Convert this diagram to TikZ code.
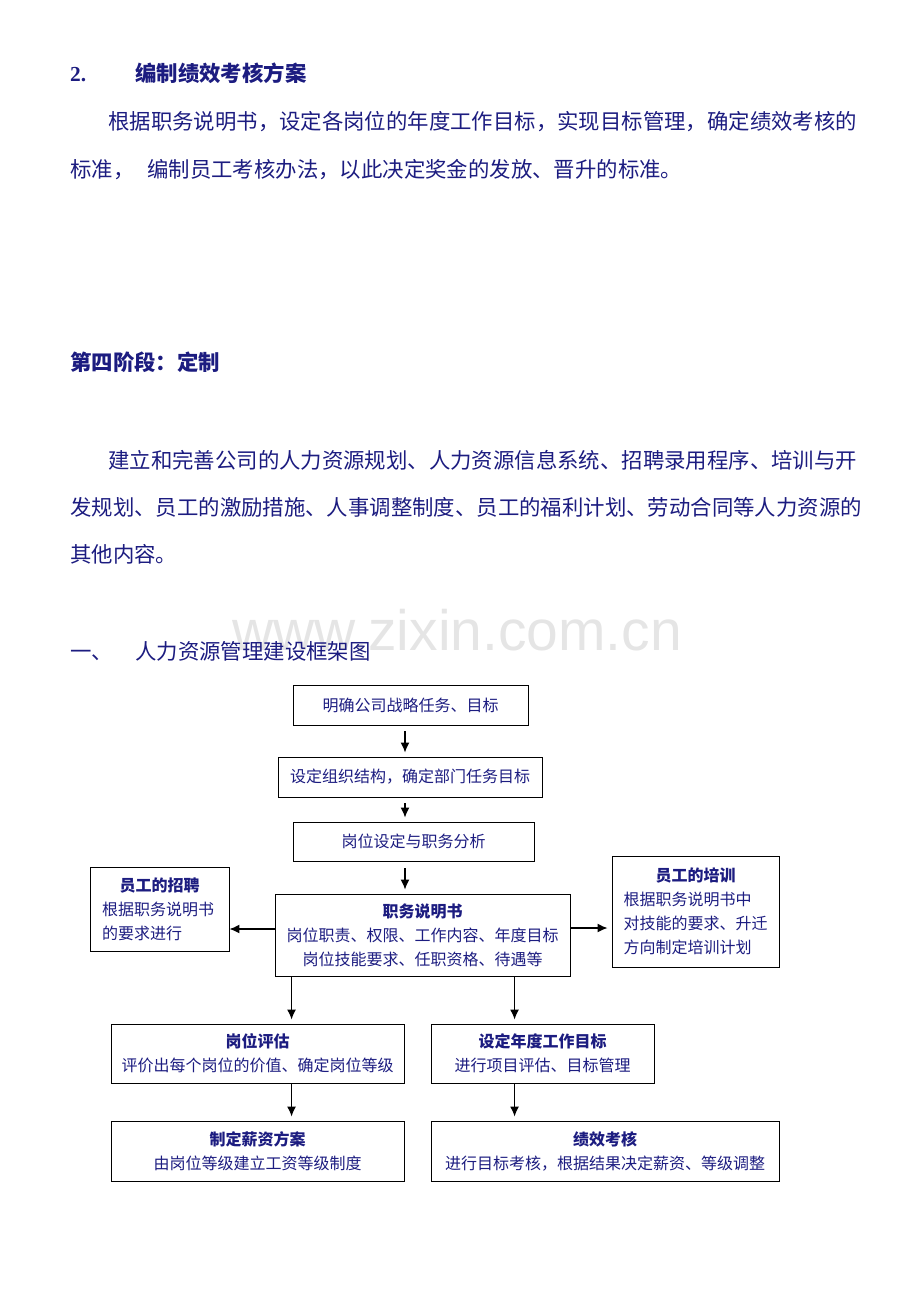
\documentclass[tikz,border=0pt]{standalone}
\usepackage{fontspec}
\setmainfont{Noto Sans CJK SC}
\newfontfamily\numfont{Liberation Serif}
\newfontfamily\webfont{Liberation Sans}
\usetikzlibrary{arrows.meta}
\definecolor{ink}{RGB}{28,28,128}
\newcommand{\bodyfont}{\fontsize{21.4pt}{30pt}\selectfont}
\newcommand{\boxfont}{\fontsize{16pt}{24pt}\selectfont}
\tikzset{
  txt/.style={anchor=base west, inner sep=0pt, font=\bodyfont, text=ink},
  box/.style={draw, line width=0.9pt, inner sep=0pt, font=\boxfont, text=ink, align=center},
  arr/.style={-{Latex[length=10pt,width=9pt]}, line width=1.4pt},
}

\begin{document}
\begin{tikzpicture}[x=1pt, y=-1pt]
    \useasboundingbox (0,0) rectangle (920,1302);
    \node[txt, font=\bodyfont\numfont\bfseries] (num) at (70,81) {2.};
    \node[txt, font=\bodyfont\bfseries] (plan) at (135,81) {编制绩效考核方案};
    \node[txt] (p1) at (108,129) {根据职务说明书，设定各岗位的年度工作目标，实现目标管理，确定绩效考核的};
    \node[txt] (p2) at (70,177) {标准，\hskip 13pt 编制员工考核办法，以此决定奖金的发放、晋升的标准。};
    \node[txt, font=\bodyfont\bfseries] (stage) at (70,370) {第四阶段：定制};
    \node[txt] (q1) at (108,468) {建立和完善公司的人力资源规划、人力资源信息系统、招聘录用程序、培训与开};
    \node[txt] (q2) at (70,515) {发规划、员工的激励措施、人事调整制度、员工的福利计划、劳动合同等人力资源的};
    \node[txt] (q3) at (70,562) {其他内容。};
    \node[txt, font=\webfont\fontsize{57pt}{60pt}\selectfont, text=black!10] (mark) at (232,650) {www.zixin.com.cn};
    \node[txt] (one) at (70,659) {一、};
    \node[txt] (title) at (135,659) {人力资源管理建设框架图};

    \node[box, minimum width=235pt, minimum height=40pt] (goal) at (410.5,705) {明确公司战略任务、目标};
    \node[box, minimum width=264pt, minimum height=40pt] (org) at (410,777) {设定组织结构，确定部门任务目标};
    \node[box, minimum width=241pt, minimum height=39pt] (post) at (413.5,841.5) {岗位设定与职务分析};
    \node[box, minimum width=295pt, minimum height=82pt] (duty) at (422.5,935)
        {\textbf{职务说明书}\\岗位职责、权限、工作内容、年度目标\\岗位技能要求、任职资格、待遇等};
    \node[box, minimum width=139pt, minimum height=84pt, text width=115pt, align=left] (hire) at (159.5,909)
        {\hfill\textbf{员工的招聘}\hfill\null\\根据职务说明书\\的要求进行};
    \node[box, minimum width=167pt, minimum height=111pt, text width=144pt, align=left] (train) at (695.5,911.5)
        {\hfill\textbf{员工的培训}\hfill\null\\根据职务说明书中\\对技能的要求、升迁\\方向制定培训计划};
    \node[box, minimum width=293pt, minimum height=59pt] (rank) at (257.5,1053.5)
        {\textbf{岗位评估}\\评价出每个岗位的价值、确定岗位等级};
    \node[box, minimum width=223pt, minimum height=59pt] (target) at (542.5,1053.5)
        {\textbf{设定年度工作目标}\\进行项目评估、目标管理};
    \node[box, minimum width=293pt, minimum height=60pt] (pay) at (257.5,1151)
        {\textbf{制定薪资方案}\\由岗位等级建立工资等级制度};
    \node[box, minimum width=348pt, minimum height=60pt] (check) at (605,1151)
        {\textbf{绩效考核}\\进行目标考核，根据结果决定薪资、等级调整};

    \draw[arr, shorten <=6pt, shorten >=4pt] ([xshift=-5.5pt]goal.south) -- ([xshift=-5pt]org.north);
    \draw[arr, shorten <=6pt, shorten >=4pt] ([xshift=-5pt]org.south) -- ([xshift=-8.5pt]post.north);
    \draw[arr, shorten <=7pt, shorten >=4pt] ([xshift=-8.5pt]post.south) -- ([xshift=-17.5pt]duty.north);
    \coordinate (dl) at ([yshift=6pt]duty.west);
    \coordinate (dr) at ([yshift=7pt]duty.east);
    \draw[arr] (dl) -- (dl -| hire.east);
    \draw[arr, shorten >=4pt] (dr) -- (dr -| train.west);
    \coordinate (cl) at ([xshift=17pt]duty.south west);
    \coordinate (cr) at ([xshift=240pt]duty.south west);
    \draw[arr, shorten >=4pt] (cl) -- (cl |- rank.north);
    \draw[arr, shorten >=4pt] (cr) -- (cr |- target.north);
    \draw[arr, shorten >=4pt] (cl |- rank.south) -- (cl |- pay.north);
    \draw[arr, shorten >=4pt] (cr |- target.south) -- (cr |- check.north);
\end{tikzpicture}
\end{document}
